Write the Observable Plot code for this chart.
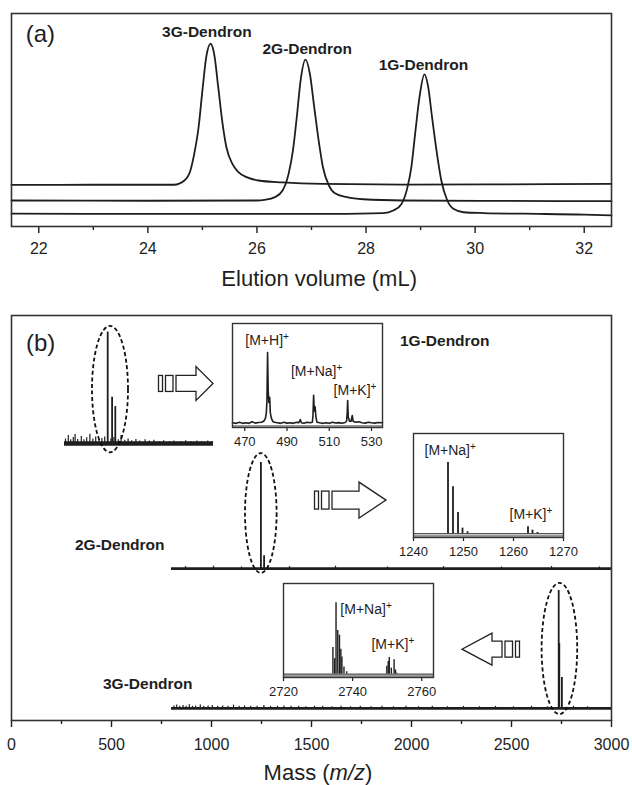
<!DOCTYPE html>
<html><head><meta charset="utf-8">
<script src="https://cdn.jsdelivr.net/npm/d3@7"></script>
<script src="https://cdn.jsdelivr.net/npm/@observablehq/plot@0.6"></script>
<style>
body{margin:0;background:#fff;}
#wrap{position:relative;width:632px;height:785px;overflow:hidden;background:#fff;}
#wrap svg{position:absolute;}
</style></head><body><div id="wrap"></div>
<script>
// ---------- DATA ----------
// (a) SEC traces: [elution volume (mL), detector response (a.u., stacked)]
const sec3G = [[21.5,19.5],[23.0,19.6],[24.0,19.6],[24.48,19.6],[24.67,21.6],[24.78,26.3],[24.85,34.1],[24.93,46.6],[25.0,63.8],[25.07,79.5],[25.15,85.8],[25.22,80.3],[25.29,65.4],[25.37,48.2],[25.44,37.2],[25.55,29.4],[25.66,25.5],[25.81,23.2],[26.03,21.6],[26.47,20.7],[27.21,20.0],[28.68,19.7],[30.5,19.8],[32.5,20.0]];
const sec2G = [[21.5,12.2],[24.0,12.1],[26.0,12.2],[26.14,12.5],[26.33,13.8],[26.47,16.9],[26.58,24.7],[26.66,35.7],[26.73,51.3],[26.80,68.5],[26.89,78.3],[26.97,71.7],[27.05,56.0],[27.14,38.8],[27.21,27.8],[27.32,19.2],[27.43,15.6],[27.65,13.8],[27.95,12.8],[28.68,12.2],[30.5,12.0],[32.5,11.9]];
const sec1G = [[21.5,6.0],[24.0,5.9],[27.0,5.9],[28.32,6.3],[28.50,7.5],[28.65,10.6],[28.76,18.5],[28.83,27.8],[28.90,43.5],[28.98,60.7],[29.07,71.4],[29.14,65.4],[29.21,51.3],[29.31,32.5],[29.38,21.6],[29.49,12.2],[29.60,8.3],[29.79,6.7],[30.16,6.3],[30.89,6.0],[32.0,5.6],[32.5,5.2]];
const secTicks = [22, 24, 26, 28, 30, 32];
const secMinorTicks = [23, 25, 27, 29, 31];
const secNames = ["3G-Dendron", "2G-Dendron", "1G-Dendron"];

// (b) MALDI spectra, stacked: baseline levels, main peaks [m/z, top], noise spikes [m/z, top]
const msSamples = ["1G-Dendron", "2G-Dendron", "3G-Dendron"];
const msStart = [265, 800, 800];
const msEnd = [1010, 3000, 3000];
const msLevel = [68.4, 37.5, 3.0];
const msPeaks1G = [[481, 95.9], [503, 79.8], [519, 77.5]];
const msPeaks2G = [[1247, 63.7], [1263, 40.7]];
const msPeaks3G = [[2736, 32.1], [2739, 19.0], [2752, 10.6]];
const msNoise1G = [[270,69.5],[284,70.4],[296,69.3],[309,69.9],[318,70.6],[331,69.4],[349,70.1],[362,69.3],[376,69.8],[392,70.7],[407,69.5],[421,70.0],[438,69.3],[452,69.6],[466,70.0],[497,69.5],[512,69.9],[534,69.3],[548,70.4],[566,69.2],[583,69.5],[601,69.1],[622,69.4],[641,69.0],[668,69.3],[689,69.0],[712,69.2],[738,68.9],[761,69.1],[789,68.9],[812,69.0],[846,68.9],[871,69.1],[898,68.9],[927,69.0],[952,68.9],[981,69.0],[1002,68.9]];
const msNoise2G = [[870,38.0],[1010,38.1],[1150,37.9],[1390,38.0],[1620,38.1],[1880,37.9],[2160,38.0],[2450,37.9],[2700,38.0],[2940,37.9]];
const msNoise3G = [[812,3.6],[826,3.8],[841,3.5],[858,3.7],[873,3.5],[889,3.9],[905,3.5],[921,3.6],[944,3.8],[961,3.5],[983,3.6],[1004,3.7],[1031,3.5],[1056,3.6],[1082,3.5],[1110,3.8],[1138,3.5],[1165,3.6],[1196,3.5],[1228,3.5],[1262,3.7],[1295,3.5],[1330,3.5],[1362,3.6],[1398,3.5],[1436,3.5],[1472,3.4],[1515,3.5],[1556,3.5],[1602,3.4],[1648,3.5],[1695,3.4],[1744,3.5],[1798,3.4],[1852,3.5],[1910,3.4],[1972,3.5],[2035,3.4],[2104,3.5],[2180,3.4],[2260,3.5],[2340,3.4],[2420,3.5],[2510,3.4],[2600,3.5],[2680,3.4],[2810,3.5],[2880,3.4]];
const msTicks = [0, 500, 1000, 1500, 2000, 2500, 3000];
const msMinorTicks = [250, 750, 1250, 1750, 2250, 2750];

// insets (zoomed spectra, % of inset height)
const ins1Profile = [[464.2,4.5],[466,4],[467.5,5],[469,4],[470.5,4.5],[472,4],[473.5,5.5],[475,4.2],[476.5,4.8],[478,5],[479.2,6.5],[479.8,9],[480.2,14],[480.5,25],[480.8,72],[481.1,35],[481.4,24],[481.8,29],[482.1,14],[482.6,9],[483.2,6],[484,5],[485.5,4.5],[487,4],[488.5,5],[490,4.2],[491.5,4.5],[493,4],[494.5,5],[495.5,4.5],[496.3,7.5],[496.8,4.5],[498,4],[499.5,5],[501,4.5],[502,5],[502.3,12],[502.6,31],[502.9,16],[503.3,20],[503.7,10],[504.2,5],[505.5,4.5],[507,4],[508.5,4.6],[510,4],[511.5,5],[513,4.3],[514.5,4.7],[516,4],[517.5,4.8],[518.2,6],[518.5,14],[518.7,26],[519.0,10],[519.6,6],[520.3,6],[520.9,11.5],[521.3,6],[522.5,5],[524,5.5],[525.5,4.5],[527,4.2],[528.5,5],[530,4.5],[531.5,4.2],[533,4.8],[535.2,4.5]];
const ins1Ticks = [470, 490, 510, 530];
const ins2Sticks = [[1246.9,72],[1247.9,48.8],[1248.9,24],[1249.8,9],[1250.8,5.5],[1262.9,10.3],[1263.8,7.1],[1264.8,4.8]];
const ins2Ticks = [1240, 1250, 1260, 1270];
const ins3Sticks = [[2734.3,32],[2734.8,20],[2735.2,79.4],[2735.7,50],[2736.2,45],[2736.6,30],[2736.9,21.9],[2737.5,11.3],[2738.3,6],[2749.9,12],[2750.3,17],[2750.6,21.3],[2751.2,10],[2752.0,19],[2752.4,8],[2752.8,4.6]];
const ins3Ticks = [2720, 2740, 2760];

// ---------- HELPERS ----------
const FONT = "'Liberation Sans', Arial, Helvetica, sans-serif";
const INK = "#1e1e1e";
const plain = d => String(d);
const wrap = document.getElementById("wrap");
function place(el, left, top) { el.style.left = left + "px"; el.style.top = top + "px"; wrap.appendChild(el); }
const baseStyle = {fontFamily: FONT, fontSize: "16px", color: INK, background: "transparent", overflow: "visible"};

function richText(items) {
  return (index, scales) => {
    const g = d3.create("svg:g").attr("font-family", FONT).attr("fill", INK);
    for (const it of items) {
      const t = g.append("text")
        .attr("x", scales.x(it.x)).attr("y", scales.y(it.y)).attr("dy", "0.35em")
        .attr("text-anchor", it.anchor || "start")
        .attr("font-size", it.size).attr("font-weight", it.weight || "normal");
      for (const p of it.parts) {
        const s = t.append("tspan").text(p.t);
        if (p.sup) s.attr("baseline-shift", "super").attr("font-size", it.size * 0.72);
        if (p.it) s.attr("font-style", "italic");
      }
    }
    return g.node();
  };
}
function ellipses(list) {
  return (index, {x, y}) => {
    const g = d3.create("svg:g").attr("fill", "none").attr("stroke", "#111").attr("stroke-width", 1.8).attr("stroke-dasharray", "4 2.6");
    for (const e of list) {
      g.append("ellipse").attr("cx", x(e.mz)).attr("cy", y(e.y))
        .attr("rx", Math.abs(x(e.mz + e.rmz) - x(e.mz))).attr("ry", Math.abs(y(e.y + e.ry) - y(e.y)));
    }
    return g.node();
  };
}
function arrows(list) {
  return (index, {x, y}) => {
    const g = d3.create("svg:g").attr("fill", "#fff").attr("stroke", "#222").attr("stroke-width", 1.3);
    for (const a of list) {
      const x0 = x(a.mz), y0 = y(a.y), s = a.dir;
      const pts = [[0,-a.bh],[a.b,-a.bh],[a.b,-a.hh],[a.b+a.h,0],[a.b,a.hh],[a.b,a.bh],[0,a.bh]];
      g.append("path").attr("d", "M" + pts.map(([u,v]) => (x0 + s*u) + "," + (y0 + v)).join("L") + "Z");
      for (const [u, v] of [[-10.5,-3],[-17.5,-13.5]]) {
        const xa = x0 + s*u, xb = x0 + s*v;
        g.append("rect").attr("x", Math.min(xa, xb)).attr("y", y0 - a.bh).attr("width", Math.abs(xb - xa)).attr("height", 2*a.bh);
      }
    }
    return g.node();
  };
}
const sup = (main, size, x, y) => ({x, y, size, parts: [{t: main}, {t: "+", sup: true}]});

// ---------- PANEL (a) ----------
const pa = Plot.plot({
  width: 632, height: 300, marginTop: 13, marginBottom: 74, marginLeft: 11, marginRight: 21,
  x: {domain: [21.5, 32.5]}, y: {domain: [0, 100], axis: null},
  style: baseStyle,
  marks: [
    Plot.axisX(secMinorTicks, {tickSize: 4, text: null, label: null, strokeWidth: 1.4}),
    Plot.axisX(secTicks, {tickSize: 7, tickPadding: 9, label: null, fontSize: 16, strokeWidth: 1.4, tickFormat: plain}),
    Plot.line(sec3G, {x: d => d[0], y: d => d[1], curve: "monotone-x", stroke: INK, strokeWidth: 1.8}),
    Plot.line(sec2G, {x: d => d[0], y: d => d[1], curve: "monotone-x", stroke: INK, strokeWidth: 1.8}),
    Plot.line(sec1G, {x: d => d[0], y: d => d[1], curve: "monotone-x", stroke: INK, strokeWidth: 1.8}),
    Plot.frame({stroke: "#333", strokeWidth: 1.6}),
    richText([
      {x: 24.27, y: 91.5, size: 15.5, weight: "bold", parts: [{t: secNames[0]}]},
      {x: 26.11, y: 83.1, size: 15.5, weight: "bold", parts: [{t: secNames[1]}]},
      {x: 28.24, y: 75.6, size: 15.5, weight: "bold", parts: [{t: secNames[2]}]},
      {x: 21.77, y: 90.1, size: 24, parts: [{t: "(a)"}]},
      {x: 27.15, y: -24.6, size: 22, anchor: "middle", parts: [{t: "Elution volume (mL)"}]}
    ])
  ]
});
place(pa, 0, 0);

// ---------- PANEL (b) ----------
const msBase = msSamples.map((s, i) => ({sample: s, start: msStart[i], end: msEnd[i], level: msLevel[i]}));
const stickRows = (arr, base) => arr.map(([mz, top]) => ({mz, top, base}));
const msPeakRows = [...stickRows(msPeaks1G, msLevel[0]), ...stickRows(msPeaks2G, msLevel[1]), ...stickRows(msPeaks3G, msLevel[2])];
const msNoiseRows = [...stickRows(msNoise1G, msLevel[0]), ...stickRows(msNoise2G, msLevel[1]), ...stickRows(msNoise3G, msLevel[2])];

const pb = Plot.plot({
  width: 632, height: 485, marginTop: 15, marginBottom: 65, marginLeft: 11, marginRight: 21,
  x: {domain: [0, 3000]}, y: {domain: [0, 100], axis: null},
  style: baseStyle,
  marks: [
    Plot.axisX(msMinorTicks, {tickSize: 4, text: null, label: null, strokeWidth: 1.4}),
    Plot.axisX(msTicks, {tickSize: 7, tickPadding: 11, label: null, fontSize: 16, strokeWidth: 1.4, tickFormat: plain}),
    Plot.ruleY(msBase, {y: "level", x1: "start", x2: "end", stroke: INK, strokeWidth: d => d.sample === "1G-Dendron" ? 4.5 : 2.6}),
    Plot.ruleX(msNoiseRows, {x: "mz", y1: "base", y2: "top", stroke: INK, strokeWidth: 1.2}),
    Plot.ruleX(msPeakRows, {x: "mz", y1: "base", y2: "top", stroke: INK, strokeWidth: 1.8}),
    ellipses([
      {mz: 495, y: 81.7, rmz: 90, ry: 15.6},
      {mz: 1249, y: 51.1, rmz: 79, ry: 14.8},
      {mz: 2742, y: 17.65, rmz: 89, ry: 16.2}
    ]),
    arrows([
      {mz: 825, y: 83.1, dir: 1, b: 20, bh: 8, h: 17, hh: 17},
      {mz: 1605, y: 54.3, dir: 1, b: 27, bh: 9, h: 27, hh: 18},
      {mz: 2455, y: 17.5, dir: -1, b: 10, bh: 8, h: 30, hh: 16}
    ]),
    Plot.frame({stroke: "#333", strokeWidth: 1.6}),
    richText([
      {x: 1945, y: 93.6, size: 15.5, weight: "bold", parts: [{t: msSamples[0]}]},
      {x: 320, y: 43.2, size: 15.5, weight: "bold", parts: [{t: msSamples[1]}]},
      {x: 460, y: 8.9, size: 15.5, weight: "bold", parts: [{t: msSamples[2]}]},
      {x: 75, y: 93.1, size: 24, parts: [{t: "(b)"}]},
      {x: 1535, y: -12.8, size: 22, anchor: "middle", parts: [{t: "Mass ("}, {t: "m/z", it: true}, {t: ")"}]}
    ])
  ]
});
place(pb, 0, 300);

// ---------- INSETS ----------
function inset({left, top, w, h, domain, ticks, marks, labels}) {
  const ml = 22, mr = 22, mt = 4, mb = 26;
  const p = Plot.plot({
    width: w + ml + mr, height: h + mt + mb, marginLeft: ml, marginRight: mr, marginTop: mt, marginBottom: mb,
    x: {domain}, y: {domain: [0, 100], axis: null},
    style: {...baseStyle, fontSize: "13px"},
    marks: [
      Plot.axisX(ticks, {tickSize: 4, tickPadding: 5, label: null, fontSize: 13, strokeWidth: 1.2, tickFormat: plain}),
      Plot.ruleY([1.2], {stroke: "#999", strokeWidth: 2.6}),
      ...marks,
      Plot.frame({stroke: "#333", strokeWidth: 1.4}),
      richText(labels)
    ]
  });
  place(p, left - ml, top - mt);
}
inset({left: 231.7, top: 322.7, w: 150, h: 104, domain: [464.2, 535.2], ticks: ins1Ticks,
  marks: [Plot.line(ins1Profile, {x: d => d[0], y: d => d[1], stroke: INK, strokeWidth: 1.6})],
  labels: [sup("[M+H]", 14, 470.5, 83.4), sup("[M+Na]", 14, 492.1, 53.6), sup("[M+K]", 14, 512.3, 35.3)]});
inset({left: 413.3, top: 432.7, w: 150, h: 104, domain: [1240, 1270], ticks: ins2Ticks,
  marks: [Plot.ruleY([3.6], {stroke: INK, strokeWidth: 1}),
          Plot.ruleX(ins2Sticks, {x: d => d[0], y1: 3.6, y2: d => d[1], stroke: INK, strokeWidth: 1.8})],
  labels: [sup("[M+Na]", 14, 1242.3, 83.4), sup("[M+K]", 14, 1259.3, 22.3)]});
inset({left: 283.3, top: 583.3, w: 150, h: 94, domain: [2720, 2763.4], ticks: ins3Ticks,
  marks: [Plot.ruleY([3.6], {stroke: INK, strokeWidth: 1}),
          Plot.ruleX(ins3Sticks, {x: d => d[0], y1: 3.6, y2: d => d[1], stroke: INK, strokeWidth: 1.4})],
  labels: [sup("[M+Na]", 14, 2736.6, 72.7), sup("[M+K]", 14, 2745.6, 35.4)]});
</script></body></html>
